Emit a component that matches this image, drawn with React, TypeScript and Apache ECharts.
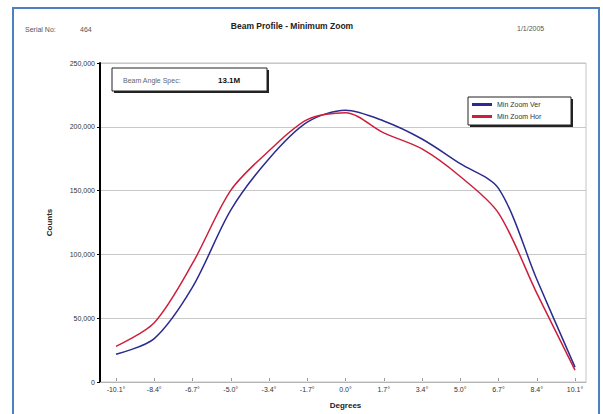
import React, { useEffect, useRef } from "react";
import * as echarts from "echarts";

const categories = ["-10.1°", "-8.4°", "-6.7°", "-5.0°", "-3.4°", "-1.7°", "0.0°", "1.7°", "3.4°", "5.0°", "6.7°", "8.4°", "10.1°"];
const verValues = [18800, 31300, 72100, 133200, 174000, 203000, 212500, 204000, 189700, 170100, 150500, 78400, 8600];
const horValues = [25100, 43900, 90900, 148900, 180300, 205000, 210500, 194500, 181800, 159900, 130900, 67400, 6300];
const seriesNames = ["Min Zoom Ver", "Min Zoom Hor"];
const yTicks = { min: 0, max: 250000, interval: 50000 };

const FONT = "'Liberation Sans', Arial, sans-serif";

export default function App() {
  const ref = useRef<HTMLDivElement>(null);
  useEffect(() => {
    document.body.style.margin = "0";
    const chart = echarts.init(ref.current!, null, { renderer: "svg" });
    const option = {
      animation: false,
      backgroundColor: "#ffffff",
      textStyle: { fontFamily: FONT },
      grid: [
        { left: 100, top: 63, width: 486, height: 319, show: true, borderColor: "#c4c4c4", borderWidth: 1 },
        { left: 116, top: 63, width: 459, height: 319 },
      ],
      xAxis: [
        {
          gridIndex: 0, type: "value", min: 0, max: 1,
          axisLine: { show: true, lineStyle: { color: "#b4b4b4" } },
          axisTick: { show: false }, axisLabel: { show: false }, splitLine: { show: false },
        },
        {
          gridIndex: 1, type: "category", data: categories, boundaryGap: false,
          axisLine: { show: false },
          axisTick: { show: true, length: 3, lineStyle: { color: "#999" } },
          axisLabel: { fontSize: 7, color: "#333", margin: 8, fontFamily: FONT },
          name: "Degrees", nameLocation: "middle", nameGap: 23,
          nameTextStyle: { fontSize: 8, fontWeight: "bold", color: "#222", fontFamily: FONT },
        },
      ],
      yAxis: [
        {
          gridIndex: 0, type: "value", min: yTicks.min, max: yTicks.max, interval: yTicks.interval,
          axisLine: { show: true, lineStyle: { color: "#000", width: 2 } },
          axisTick: { show: true, length: 3, lineStyle: { color: "#000" } },
          axisLabel: { fontSize: 7, color: "#333", margin: 5, fontFamily: FONT, formatter: (v: number) => v.toLocaleString("en-US") },
          splitLine: { show: true, lineStyle: { color: "#c8c8c8" } },
          name: "Counts", nameLocation: "middle", nameGap: 47,
          nameTextStyle: { fontSize: 8, fontWeight: "bold", color: "#222", fontFamily: FONT },
        },
        { gridIndex: 1, type: "value", min: yTicks.min, max: yTicks.max, show: false },
      ],
      legend: {
        orient: "vertical", left: 472, top: 101, itemWidth: 20, itemHeight: 3, itemGap: 5,
        icon: "rect", padding: 0,
        textStyle: { fontSize: 7, color: "#333", fontFamily: FONT },
        data: seriesNames,
      },
      series: [
        {
          name: seriesNames[0], type: "line", xAxisIndex: 1, yAxisIndex: 1, data: verValues,
          smooth: 0.3, showSymbol: false, lineStyle: { color: "#2b2b8f", width: 1.5 }, itemStyle: { color: "#2b2b8f" },
        },
        {
          name: seriesNames[1], type: "line", xAxisIndex: 1, yAxisIndex: 1, data: horValues,
          smooth: 0.3, showSymbol: false, lineStyle: { color: "#cc1f3c", width: 1.5 }, itemStyle: { color: "#cc1f3c" },
        },
      ],
      graphic: [
        { type: "rect", shape: { x: 13, y: 8, width: 586, height: 420 }, style: { fill: "none", stroke: "#4f7fbf", lineWidth: 2 }, z: 1 },
        { type: "text", x: 25, y: 29, style: { text: "Serial No:", fontSize: 7, fill: "#555", fontFamily: FONT, textVerticalAlign: "middle" } },
        { type: "text", x: 80, y: 29, style: { text: "464", fontSize: 7, fill: "#555", fontFamily: FONT, textVerticalAlign: "middle" } },
        { type: "text", x: 292, y: 26, style: { text: "Beam Profile - Minimum Zoom", fontSize: 8.5, fontWeight: "bold", fill: "#222", fontFamily: FONT, textAlign: "center", textVerticalAlign: "middle" } },
        { type: "text", x: 517, y: 28, style: { text: "1/1/2005", fontSize: 7, fill: "#555", fontFamily: FONT, textVerticalAlign: "middle" } },
        // annotation box
        { type: "rect", shape: { x: 114, y: 70, width: 155, height: 23 }, style: { fill: "#222", stroke: "none" }, z: 2 },
        { type: "rect", shape: { x: 112, y: 68, width: 155, height: 23 }, style: { fill: "#fff", stroke: "#222", lineWidth: 1 }, z: 3 },
        { type: "text", x: 123, y: 80, z: 4, style: { text: "Beam Angle Spec:", fontSize: 7, fill: "#666", fontFamily: FONT, textVerticalAlign: "middle" } },
        { type: "text", x: 218, y: 80, z: 4, style: { text: "13.1M", fontSize: 8, fontWeight: "bold", fill: "#111", fontFamily: FONT, textVerticalAlign: "middle" } },
        // legend box
        { type: "rect", shape: { x: 470, y: 99, width: 103, height: 28 }, style: { fill: "#222", stroke: "none" }, z: 2 },
        { type: "rect", shape: { x: 468, y: 97, width: 103, height: 28 }, style: { fill: "#fff", stroke: "#222", lineWidth: 1 }, z: 3 },
      ],
    };
    chart.setOption(option);
    return () => chart.dispose();
  }, []);
  return <div ref={ref} style={{ width: 603, height: 414 }} />;
}
